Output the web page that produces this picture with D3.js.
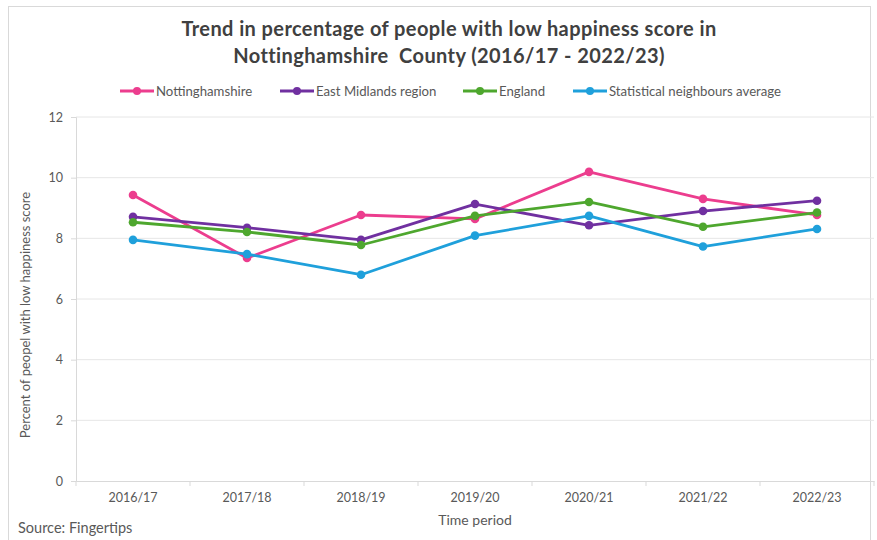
<!DOCTYPE html>
<html>
<head>
<meta charset="utf-8">
<script src="https://cdn.jsdelivr.net/npm/d3@7"></script>
<style>
  html, body { margin: 0; padding: 0; background: #fff; }
  svg { display: block; }
</style>
</head>
<body>
<svg id="chart" width="877" height="540"></svg>
<script>
// Survey periods on the x axis
const periods = ["2016/17", "2017/18", "2018/19", "2019/20", "2020/21", "2021/22", "2022/23"];

// Percent of people with a low happiness score, per area
const nottinghamshire = [9.43, 7.35, 8.77, 8.64, 10.19, 9.30, 8.77];
const eastMidlands    = [8.71, 8.35, 7.95, 9.13, 8.43, 8.90, 9.24];
const england         = [8.53, 8.21, 7.78, 8.74, 9.20, 8.38, 8.85];
const neighbours      = [7.95, 7.48, 6.80, 8.09, 8.74, 7.73, 8.31];

const yTicks = [0, 2, 4, 6, 8, 10, 12];

const seriesNames  = ["Nottinghamshire", "East Midlands region", "England", "Statistical neighbours average"];
const seriesColors = ["#EC3D8E", "#7030A0", "#4EA72E", "#1FA0DB"];
const seriesValues = [nottinghamshire, eastMidlands, england, neighbours];

const series = seriesNames.map((name, i) => ({
  name, color: seriesColors[i],
  values: seriesValues[i].map((v, j) => ({ period: periods[j], value: v }))
}));

const svg = d3.select("#chart");
const font = "Lato, 'Open Sans', 'Liberation Sans', Arial, sans-serif";
const textColor = "#595959";

// Chart frame
svg.append("rect")
  .attr("x", 8.5).attr("y", 6.5).attr("width", 862).attr("height", 540)
  .attr("fill", "#fff").attr("stroke", "#d9d9d9").attr("stroke-width", 1);

const plot = { left: 76, right: 874, top: 117, bottom: 481 };

const x = d3.scaleBand().domain(periods).range([plot.left, plot.right]);
const y = d3.scaleLinear().domain([0, 12]).range([plot.bottom, plot.top]);

// Horizontal gridlines
svg.append("g")
  .selectAll("line")
  .data(yTicks.filter(t => t > 0))
  .join("line")
  .attr("x1", plot.left).attr("x2", plot.right)
  .attr("y1", d => y(d)).attr("y2", d => y(d))
  .attr("stroke", "#e6e6e6").attr("stroke-width", 1);

// Y axis
const yAxis = svg.append("g")
  .attr("transform", `translate(${plot.left},0)`)
  .call(d3.axisLeft(y).tickValues(yTicks).tickSize(5).tickPadding(8));
yAxis.select(".domain").attr("stroke", "#d9d9d9");
yAxis.selectAll(".tick line").attr("stroke", "#d9d9d9");
yAxis.selectAll("text").attr("fill", textColor)
  .style("font-family", font).style("font-size", "12.5px");

// X axis
const xAxis = svg.append("g")
  .attr("transform", `translate(0,${plot.bottom})`)
  .call(d3.axisBottom(x).tickSize(0).tickPadding(12));
xAxis.select(".domain").attr("stroke", "#d9d9d9");
xAxis.selectAll("text").attr("fill", textColor)
  .style("font-family", font).style("font-size", "12.5px");
// Category boundary ticks
svg.append("g")
  .selectAll("line")
  .data(periods.map(p => x(p)).concat([plot.right]))
  .join("line")
  .attr("x1", d => d).attr("x2", d => d)
  .attr("y1", plot.bottom).attr("y2", plot.bottom + 5)
  .attr("stroke", "#d9d9d9");

// Lines and markers
const line = d3.line()
  .x(d => x(d.period) + x.bandwidth() / 2)
  .y(d => y(d.value));

const groups = svg.append("g").selectAll("g")
  .data(series).join("g");

groups.append("path")
  .attr("d", d => line(d.values))
  .attr("fill", "none")
  .attr("stroke", d => d.color)
  .attr("stroke-width", 2.8)
  .attr("stroke-linejoin", "round");

groups.selectAll("circle")
  .data(d => d.values.map(v => ({ ...v, color: d.color })))
  .join("circle")
  .attr("cx", d => x(d.period) + x.bandwidth() / 2)
  .attr("cy", d => y(d.value))
  .attr("r", 4.3)
  .attr("fill", d => d.color);

// Title (white-space kept so the double space survives)
const title = svg.append("text")
  .attr("text-anchor", "middle")
  .attr("fill", "#404040")
  .style("font-family", font).style("font-size", "20px").style("font-weight", "bold")
  .style("letter-spacing", "0.4px")
  .style("white-space", "pre");
title.append("tspan").attr("x", 449).attr("y", 36)
  .text("Trend in percentage of people with low happiness score in");
title.append("tspan").attr("x", 449).attr("y", 63)
  .text("Nottinghamshire  County (2016/17 - 2022/23)");

// Legend
const legendX = [120, 280, 463, 573];
const legend = svg.append("g").selectAll("g")
  .data(series).join("g")
  .attr("transform", (d, i) => `translate(${legendX[i]},91)`);
legend.append("line")
  .attr("x1", 0).attr("x2", 34).attr("y1", 0).attr("y2", 0)
  .attr("stroke", d => d.color).attr("stroke-width", 2.8);
legend.append("circle")
  .attr("cx", 17).attr("cy", 0).attr("r", 4).attr("fill", d => d.color);
legend.append("text")
  .attr("x", 36).attr("y", 4.5)
  .attr("fill", textColor)
  .style("font-family", font).style("font-size", "13.2px")
  .text(d => d.name);

// Axis titles
svg.append("text")
  .attr("transform", "translate(30,315) rotate(-90)")
  .attr("text-anchor", "middle")
  .attr("fill", textColor)
  .style("font-family", font).style("font-size", "13px")
  .text("Percent of peopel with low happiness score");

svg.append("text")
  .attr("x", 475).attr("y", 525)
  .attr("text-anchor", "middle")
  .attr("fill", textColor)
  .style("font-family", font).style("font-size", "14px")
  .text("Time period");

// Source note
svg.append("text")
  .attr("x", 18).attr("y", 533)
  .attr("fill", textColor)
  .style("font-family", font).style("font-size", "14.5px")
  .text("Source: Fingertips");
</script>
</body>
</html>
